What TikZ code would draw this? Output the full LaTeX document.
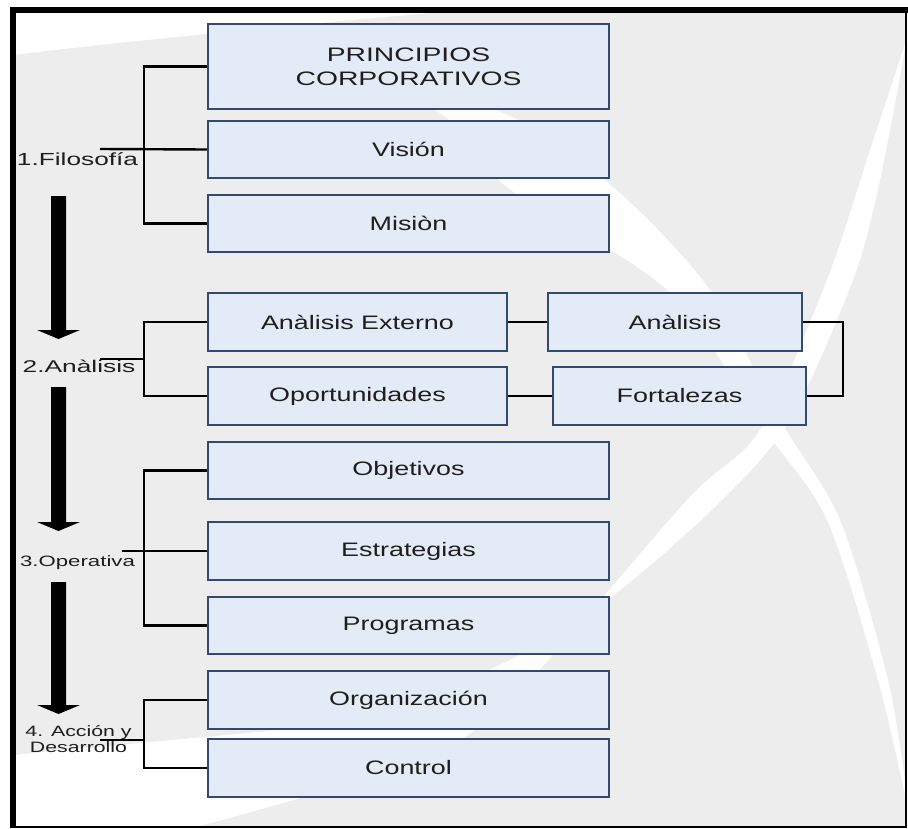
\documentclass[tikz,border=0pt]{standalone}
\usepackage{fontspec}
\setmainfont{Liberation Sans}
\usepackage{graphicx}
\definecolor{bg}{HTML}{EDEDED}
\definecolor{boxfill}{HTML}{E3EBF6}
\definecolor{boxline}{HTML}{34496E}
\definecolor{txt}{HTML}{1E1E1E}
\newcommand{\hs}[2]{\scalebox{#1}[1]{#2}}
\begin{document}
\begin{tikzpicture}[x=1pt,y=-1pt,
  box/.style={draw=boxline, line width=2pt, fill=boxfill, minimum height=57pt,
    minimum width=401pt, inner sep=0pt, text=txt, align=center,
    font=\fontsize{19.5}{25}\selectfont},
  conn/.style={draw=black, line width=2.4pt},
  lbl/.style={inner sep=0pt, text=txt, anchor=base, align=center},
  bigarrow/.style={fill=black}]
\useasboundingbox (0,0) rectangle (908,828);
\fill[white] (0,0) rectangle (908,828);
\fill[bg] (13,10) rectangle (906,826);
% white swooshes of the background
\fill[white] (13,13) -- (13,55) .. controls (120,42) and (260,28) .. (430,13) -- cycle;
\fill[white] plot[smooth] coordinates {(300,50) (503,113) (613,187) (710,290) (780,420) (840,520) (888,680) (906,790)}
  -- plot[smooth] coordinates {(906,800) (878,680) (827,520) (765,430) (667,290) (507,187) (440,113) (300,50)} -- cycle;
\fill[white] plot[smooth] coordinates {(907,38) (880,180) (853,280) (790,420) (722,500) (620,590) (520,655) (400,705) (300,727) (150,742) (13,755)}
  -- (13,826) -- (200,826)
  -- plot[smooth] coordinates {(200,826) (420,760) (520,690) (687,500) (760,430) (827,280) (870,150) (907,38)} -- cycle;
% frame
\draw[line width=6pt] (13,828) -- (13,10) -- (908,10);
\draw[line width=2pt] (906,12) -- (906,827) -- (13,827);
% boxes
\node[box, minimum height=85pt] (P) at (408.5,66.5) {\hs{1.45}{PRINCIPIOS}\\[-1pt]\hs{1.45}{CORPORATIVOS}};
\node[box] (V) at (408.5,149.5) {\hs{1.38}{Visión}};
\node[box] (M) at (408.5,223.5) {\hs{1.38}{Misiòn}};
\node[box, minimum width=299pt, minimum height=58pt] (AE) at (357.5,322) {\hs{1.38}{Anàlisis Externo}};
\node[box, minimum width=299pt, minimum height=58pt] (Op) at (357.5,396) {\hs{1.38}{Oportunidades}};
\node[box, minimum width=254pt, minimum height=58pt] (An) at (675,322) {\hs{1.38}{Anàlisis}};
\node[box, minimum width=253pt, minimum height=58pt] (Fo) at (679.5,396) {\hs{1.38}{Fortalezas}};
\node[box] (Ob) at (408.5,470.5) {\hs{1.38}{Objetivos}};
\node[box, minimum height=58pt] (Es) at (408.5,551) {\hs{1.38}{Estrategias}};
\node[box] (Pr) at (408.5,625.5) {\hs{1.38}{Programas}};
\node[box, minimum height=58pt] (Or) at (408.5,700) {\hs{1.38}{Organización}};
\node[box, minimum height=58pt] (Co) at (408.5,768) {\hs{1.38}{Control}};
% stage labels
\node[lbl, font=\fontsize{17.5}{20}\selectfont] (L1) at (77.5,165.5) {\hs{1.5}{1.Filosofía}};
\node[lbl, font=\fontsize{17}{20}\selectfont] (L2) at (79,372.5) {\hs{1.55}{2.Anàlisis}};
\node[lbl, font=\fontsize{15}{18}\selectfont] (L3) at (77.5,566) {\hs{1.48}{3.Operativa}};
\node[lbl, font=\fontsize{15}{16}\selectfont] (L4) at (78.5,752) {\hs{1.42}{4. Acción y}\\\hs{1.42}{Desarrollo}};
% connector points
\coordinate (f1) at (100,149);  \coordinate (j1) at (144,149);
\coordinate (f2) at (100,359);  \coordinate (j2) at (144,359);
\coordinate (f3) at (122,551);  \coordinate (j3) at (144,551);
\coordinate (f4) at (100,740);  \coordinate (j4) at (144,740);
\coordinate (rj) at (843,359);
% brackets
\draw[conn] (P.west) -| (j1) |- (M.west);
\draw[conn] (f1) -- (V.west);
\draw[conn] (AE.west) -| (j2) |- (Op.west);
\draw[conn] (f2) -- (j2);
\draw[conn] (Ob.west) -| (j3) |- (Pr.west);
\draw[conn] (f3) -- (Es.west);
\draw[conn] (Or.west) -| (j4) |- (Co.west);
\draw[conn] (f4) -- (j4);
\draw[conn] (AE.east) -- (An.west);
\draw[conn] (Op.east) -- (Fo.west);
\draw[conn] (An.east) -| (rj) |- (Fo.east);
% big down arrows
\fill[bigarrow] (51,196) -- (66,196) -- (66,330) -- (80,330) -- (58.5,339) -- (37,330) -- (51,330) -- cycle;
\fill[bigarrow] (51,387) -- (66,387) -- (66,522) -- (80,522) -- (58.5,531) -- (37,522) -- (51,522) -- cycle;
\fill[bigarrow] (51,582) -- (66,582) -- (66,705) -- (80,705) -- (58.5,714) -- (37,705) -- (51,705) -- cycle;
\end{tikzpicture}
\end{document}
